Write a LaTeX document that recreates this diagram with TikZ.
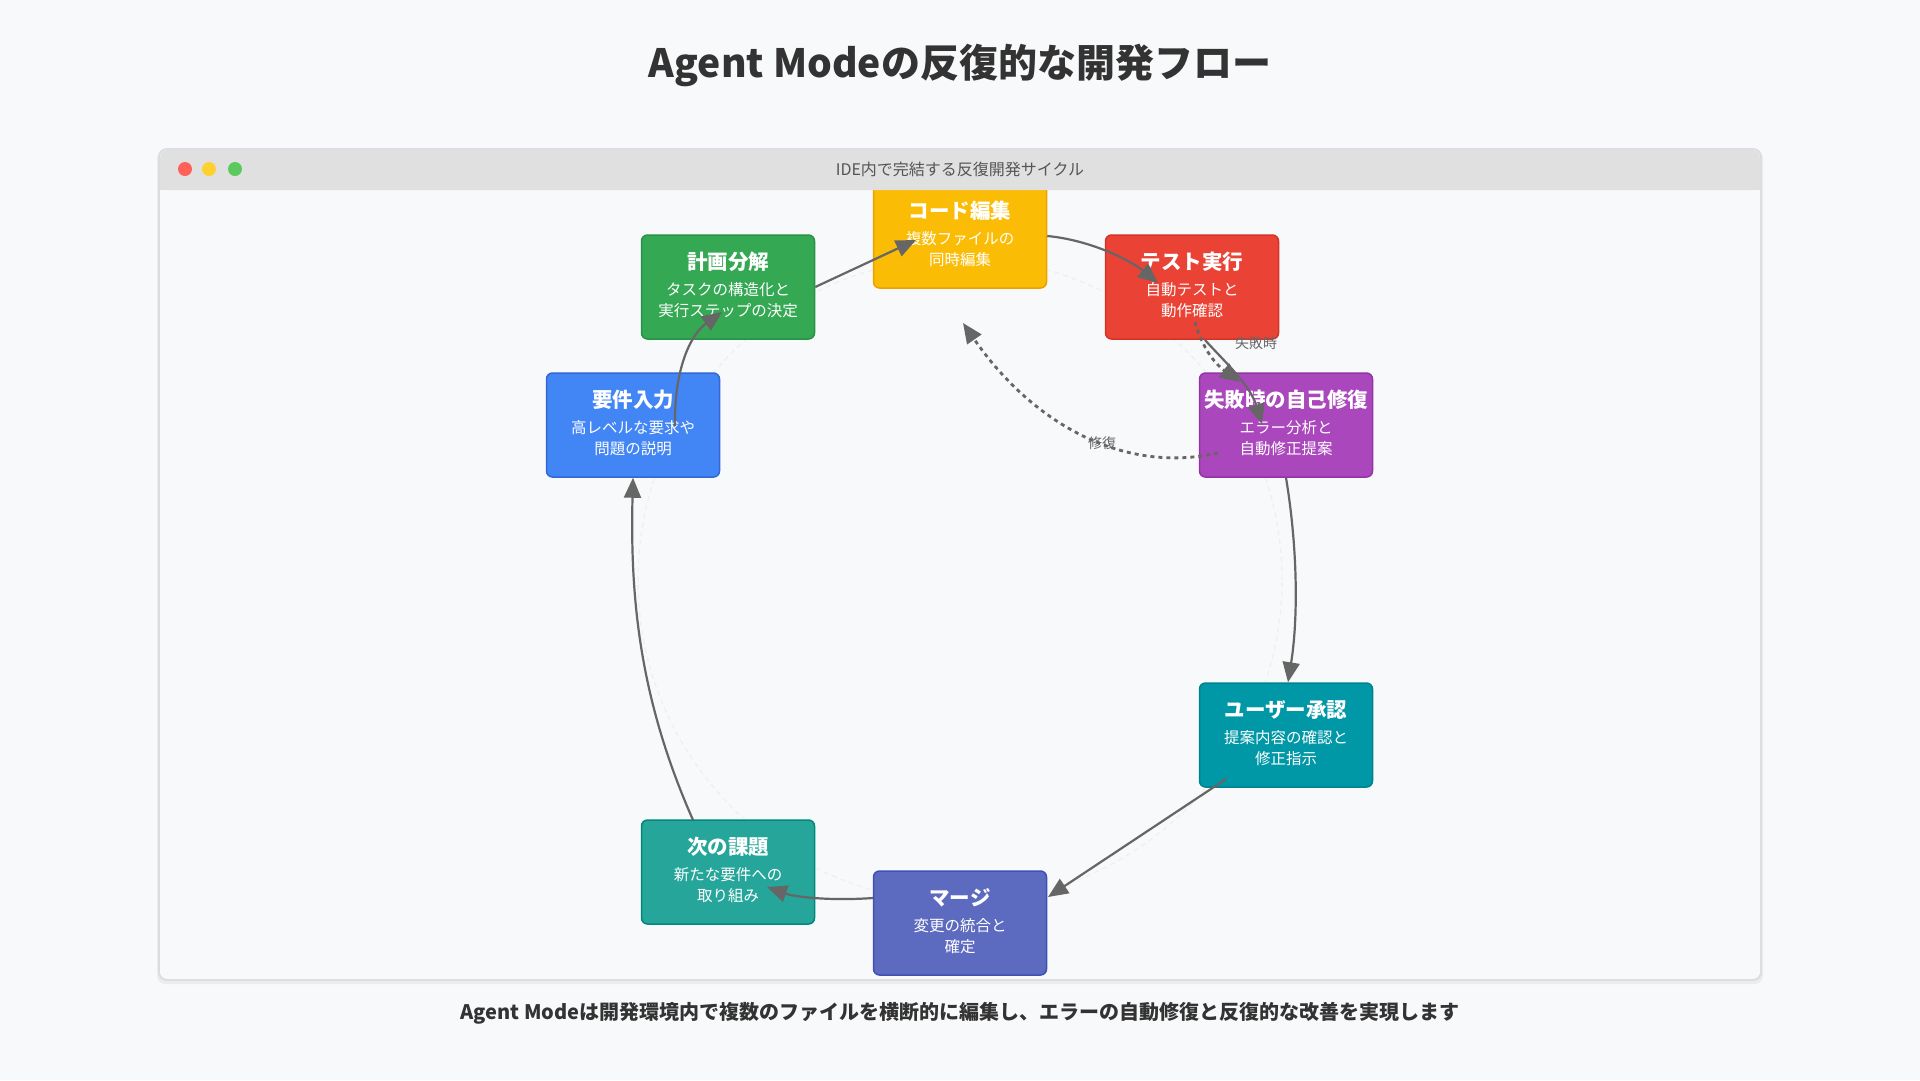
\documentclass[tikz,border=0pt]{standalone}
\usepackage{fontspec}
\setmainfont{Noto Sans CJK JP}
\usetikzlibrary{arrows.meta,calc}
\definecolor{pagebg}{HTML}{F8F9FA}
\definecolor{winborder}{HTML}{DADCE0}
\definecolor{barfill}{HTML}{E0E0E0}
\definecolor{titletext}{HTML}{333333}
\definecolor{bartext}{HTML}{555555}
\definecolor{linegray}{HTML}{666666}
\definecolor{faint}{HTML}{EEEFF1}
\definecolor{cblue}{HTML}{4285F4}\definecolor{dblue}{HTML}{3367D6}
\definecolor{cgreen}{HTML}{34A853}\definecolor{dgreen}{HTML}{2A9247}
\definecolor{cyellow}{HTML}{FBBC05}\definecolor{dyellow}{HTML}{EBA200}
\definecolor{cred}{HTML}{EA4335}\definecolor{dred}{HTML}{D33426}
\definecolor{cpurple}{HTML}{AB47BC}\definecolor{dpurple}{HTML}{9334A6}
\definecolor{cteal}{HTML}{0097A7}\definecolor{dteal}{HTML}{00838F}
\definecolor{cindigo}{HTML}{5C6BC0}\definecolor{dindigo}{HTML}{3F51B5}
\definecolor{cgteal}{HTML}{26A69A}\definecolor{dgteal}{HTML}{00897B}
\definecolor{dotred}{HTML}{FF6159}
\definecolor{dotyellow}{HTML}{FFD02E}
\definecolor{dotgreen}{HTML}{5AC95E}
\newcommand\flowstep[8]{%
  \node[stepbox, fill=#4, draw=#5] (#1) at (#2,#3) {};
  \node[steptitle] (#1-t) at (#2,#3-25) {#6};
  \node[stepsub] (#1-a) at (#2,#3+3) {#7};
  \node[stepsub] (#1-b) at (#2,#3+24) {#8};
}
\begin{document}
\begin{tikzpicture}[x=1pt,y=-1pt,
  stepbox/.style={rounded corners=6pt, minimum width=173pt, minimum height=104pt, line width=1.5pt, inner sep=0pt},
  steptitle/.style={text=white, inner sep=0pt, font=\fontsize{20.5}{24}\selectfont\bfseries},
  stepsub/.style={text=white, inner sep=0pt, font=\fontsize{15.5}{18}\selectfont},
  conn/.style={draw=linegray, line width=2.2pt, -{Triangle[length=20pt,width=17pt]}},
  dconn/.style={conn, line width=2.8pt, dash pattern=on 4pt off 4pt},
  lbl/.style={text=linegray, inner sep=1pt, font=\fontsize{14}{16}\selectfont}
]
\useasboundingbox (0,0) rectangle (1920,1080);
\fill[pagebg] (0,0) rectangle (1920,1080);

% title
\node[text=titletext, font=\fontsize{39}{46}\selectfont\bfseries] (maintitle) at (960,65) {Agent Modeの反復的な開発フロー};

% window
\fill[black, opacity=0.05, rounded corners=8pt] (157,150) rectangle (1763,984);
\draw[fill=pagebg, draw=winborder, line width=1.5pt, rounded corners=8pt] (159,149) rectangle (1761,980);

% faint background circle
\draw[faint, line width=1.2pt, dash pattern=on 5pt off 4pt] (960,580) circle [radius=322pt];

% steps
\flowstep{req}{633}{425}{cblue}{dblue}{要件入力}{高レベルな要求や}{問題の説明}
\flowstep{plan}{728}{287}{cgreen}{dgreen}{計画分解}{タスクの構造化と}{実行ステップの決定}
\flowstep{code}{960}{236}{cyellow}{dyellow}{コード編集}{複数ファイルの}{同時編集}
\flowstep{test}{1192}{287}{cred}{dred}{テスト実行}{自動テストと}{動作確認}
\flowstep{fix}{1286}{425}{cpurple}{dpurple}{失敗時の自己修復}{エラー分析と}{自動修正提案}
\flowstep{user}{1286}{735}{cteal}{dteal}{ユーザー承認}{提案内容の確認と}{修正指示}
\flowstep{merge}{960}{923}{cindigo}{dindigo}{マージ}{変更の統合と}{確定}
\flowstep{next}{728}{872}{cgteal}{dgteal}{次の課題}{新たな要件への}{取り組み}

% connector end points
\coordinate (e1s) at ($(req)+(42,1)$);
\coordinate (e1e) at ($(plan)+(-6,25)$);
\coordinate (e2e) at ($(code)+(-44,4)$);
\coordinate (e3e) at ($(test)+(-34,-4)$);
\coordinate (e4s) at ($(test)+(13,53)$);
\coordinate (e4e) at ($(fix)+(-24,-1)$);
\coordinate (e5s) at ($(test)+(3,35)$);
\coordinate (e5e) at ($(fix)+(-46,-43)$);
\coordinate (e6s) at ($(fix)+(-68,28)$);
\coordinate (e6e) at ($(code)+(3,87)$);
\coordinate (e8s) at ($(user)+(-60,44)$);
\coordinate (e8e) at ($(merge)+(88,-26)$);
\coordinate (e9s) at ($(merge)+(-87,-25)$);
\coordinate (e9e) at ($(next)+(39,15)$);
\coordinate (e10s) at ($(next)+(-35,-52)$);

% connectors
\draw[conn] (e1s) .. controls ($(req)+(41,-55)$) and ($(req)+(57,-90)$) .. (e1e);
\draw[conn] (plan.east) -- (e2e);
\draw[conn] (code.east) .. controls ($(code)+(130,4)$) and ($(code)+(170,24)$) .. (e3e);
\draw[conn] (e4s) .. controls ($(test)+(33,75)$) and ($(test)+(58,98)$) .. (e4e);
\draw[dconn] (e5s) .. controls ($(test)+(10,60)$) and ($(test)+(22,76)$) .. (e5e);
\node[lbl] (lfail) at (1256,343) {失敗時};
\draw[dconn] (e6s) .. controls ($(fix)+(-166,50)$) and ($(fix)+(-256,-5)$) .. (e6e);
\node[lbl] (lfix) at (1102,443) {修復};
\draw[conn] (fix.south) .. controls ($(fix)+(12,125)$) and ($(fix)+(12,195)$) .. ($(user.north)+(2,0)$);
\draw[conn] (e8s) -- (e8e);
\draw[conn] (e9s) .. controls ($(merge)+(-130,-22)$) and ($(merge)+(-165,-26)$) .. (e9e);
\draw[conn] (e10s) .. controls ($(next)+(-88,-172)$) and ($(next)+(-98,-272)$) .. (req.south);

% title bar
\fill[barfill, rounded corners=8pt] (160,150) rectangle (1760,190);
\fill[barfill] (160,178) rectangle (1760,190);
\draw[draw=winborder, line width=1.5pt, rounded corners=8pt] (159,149) rectangle (1761,980);
\fill[dotred] (185,169) circle [radius=7pt];
\fill[dotyellow] (209,169) circle [radius=7pt];
\fill[dotgreen] (235,169) circle [radius=7pt];
\node[text=bartext, font=\fontsize{16}{19}\selectfont] (bartitle) at (960,169) {IDE内で完結する反復開発サイクル};

% footer
\node[text=titletext, font=\fontsize{20}{24}\selectfont\bfseries] (footer) at (960,1013) {Agent Modeは開発環境内で複数のファイルを横断的に編集し、エラーの自動修復と反復的な改善を実現します};
\end{tikzpicture}
\end{document}
